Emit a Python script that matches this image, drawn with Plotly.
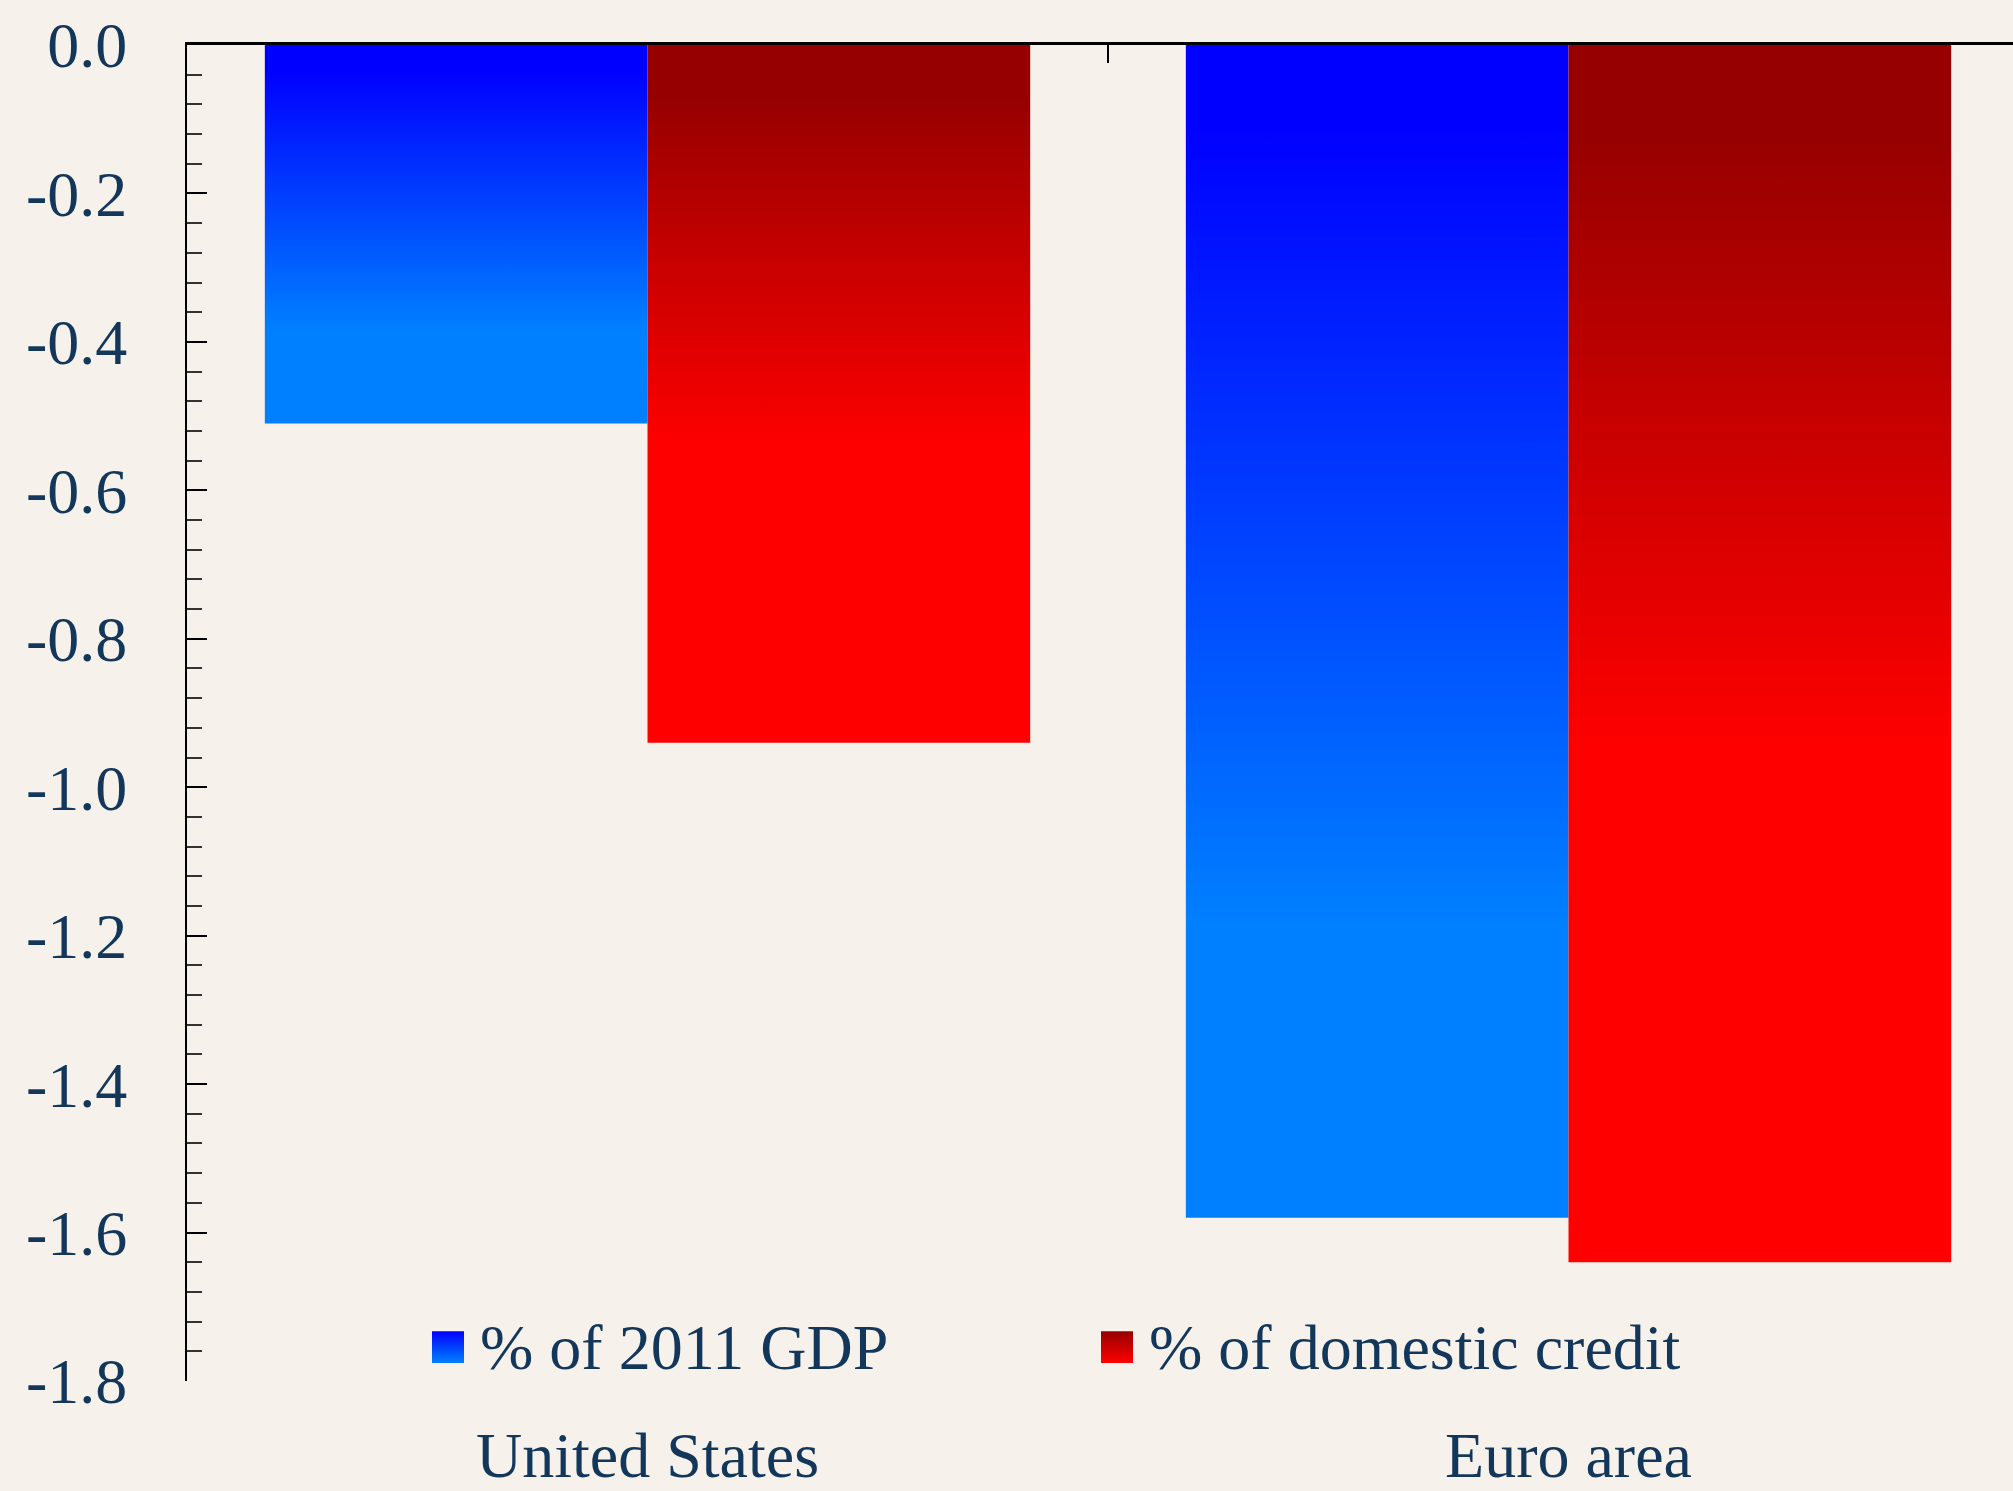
import plotly.graph_objects as go

# ---- data ----
categories = ["United States", "Euro area"]
series_names = ["% of 2011 GDP", "% of domestic credit"]
gdp_values = [-0.51, -1.58]
credit_values = [-0.94, -1.64]
y_ticks = [0.0, -0.2, -0.4, -0.6, -0.8, -1.0, -1.2, -1.4, -1.6, -1.8]
y_tick_labels = ["0.0", "-0.2", "-0.4", "-0.6", "-0.8", "-1.0", "-1.2", "-1.4", "-1.6", "-1.8"]

# ---- style ----
W, H = 2013, 1491
ML, MT, MB = 187, 45, 102
BAR_W = 0.4155
TEXT_COLOR = "#12375A"
FONT = "Liberation Serif, Times New Roman, serif"
BG = "#F6F2EB"
blue_scale = [[0, "#0080FF"], [0.25, "#0080FF"], [0.93, "#0000FF"], [1, "#0000FF"]]
red_scale = [[0, "#FF0000"], [0.42, "#FF0000"], [0.93, "#960000"], [1, "#960000"]]

series = [
    (series_names[0], gdp_values, (-BAR_W, 0.0), blue_scale),
    (series_names[1], credit_values, (0.0, BAR_W), red_scale),
]

# legend layout (pixel coordinates measured from the bottom-left of the figure)
LEG_SWATCH = 32
LEG_Y = H - 1355
LEG_X = [432, 1101]

fig = go.Figure()
for name, values, (o0, o1), cscale in series:
    for i, v in enumerate(values):
        fig.add_trace(go.Scatter(
            x=[i + o0, i + o0, i + o1, i + o1, i + o0],
            y=[0, v, v, 0, 0],
            mode="none",
            fill="toself",
            fillgradient=dict(type="vertical", colorscale=cscale),
            name=name,
            showlegend=False,
            hoverinfo="skip",
        ))

# dummy trace for the top axis
fig.add_trace(go.Scatter(x=[], y=[], xaxis="x2", yaxis="y", showlegend=False))

# manual legend: gradient swatches on a hidden pixel-coordinate overlay axis
annotations = []
for (name, _, _, cscale), lx in zip(series, LEG_X):
    s = LEG_SWATCH
    fig.add_trace(go.Scatter(
        x=[lx, lx, lx + s, lx + s, lx],
        y=[LEG_Y - s / 2, LEG_Y + s / 2, LEG_Y + s / 2, LEG_Y - s / 2, LEG_Y - s / 2],
        xaxis="x3", yaxis="y3", mode="none", fill="toself",
        fillgradient=dict(type="vertical", colorscale=[[0, cscale[0][1]], [1, cscale[-1][1]]]),
        showlegend=False, hoverinfo="skip",
    ))
    annotations.append(dict(
        x=lx + s + 14, y=LEG_Y, xref="x3", yref="y3", text=name,
        showarrow=False, xanchor="left", yanchor="middle",
        font=dict(family=FONT, size=64, color=TEXT_COLOR),
    ))

x_range = [-0.5, 1.4826]
fig.update_layout(
    width=W, height=H,
    margin=dict(l=ML, r=0, t=MT, b=MB, pad=0),
    paper_bgcolor=BG, plot_bgcolor=BG,
    font=dict(family=FONT, size=64, color=TEXT_COLOR),
    xaxis=dict(
        type="linear", range=x_range, tickvals=[0, 1], ticktext=categories,
        showline=False, ticks="", showgrid=False, zeroline=False,
        ticklabelstandoff=31,
    ),
    xaxis2=dict(
        type="linear", range=x_range, overlaying="x", side="top", anchor="y",
        tickvals=[0.5], ticks="inside", ticklen=18, tickcolor="#000", tickwidth=2,
        showticklabels=False, showline=True, linecolor="#000", linewidth=3,
        showgrid=False, zeroline=False,
    ),
    xaxis3=dict(range=[ML, W], overlaying="x", visible=False, anchor="y3"),
    yaxis3=dict(range=[MB, H - MT], overlaying="y", visible=False, anchor="x3"),
    yaxis=dict(
        range=[-1.8, 0], tickvals=y_ticks, ticktext=y_tick_labels,
        ticks="inside", ticklen=20, tickcolor="#000", tickwidth=2,
        showline=True, linecolor="#000", linewidth=2,
        showgrid=False, zeroline=False, ticklabelstandoff=45,
        minor=dict(dtick=0.04, ticks="inside", ticklen=15, tickcolor="#333", tickwidth=2, showgrid=False),
    ),
    annotations=annotations,
    showlegend=False,
)

fig.write_html("out.html", config={"displayModeBar": False},
               post_script="document.body.style.margin='0';")
